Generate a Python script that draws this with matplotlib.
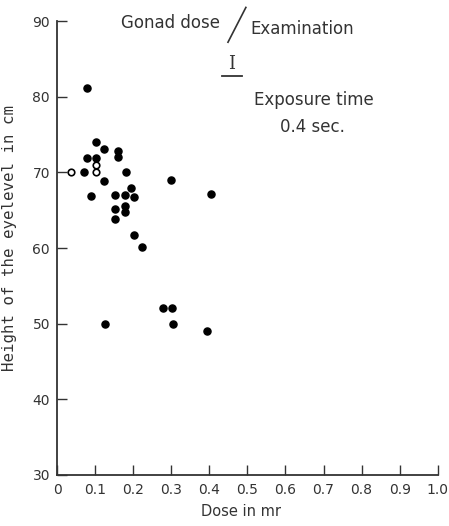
import matplotlib.pyplot as plt

# dose (mr) vs height of the eyelevel (cm), examination I
dose = [0.080, 0.103, 0.123, 0.159, 0.159, 0.079, 0.103, 0.070, 0.180, 0.123,
        0.299, 0.089, 0.152, 0.178, 0.194, 0.202, 0.152, 0.178, 0.178, 0.152,
        0.203, 0.223, 0.278, 0.303, 0.126, 0.304, 0.395, 0.404]
height = [81.1, 74.0, 73.1, 72.8, 72.0, 71.9, 71.9, 70.0, 70.0, 68.8,
          69.0, 66.9, 67.0, 67.0, 67.9, 66.8, 65.1, 65.5, 64.7, 63.8,
          61.7, 60.1, 52.1, 52.1, 50.0, 49.9, 49.0, 67.1]
# hollow marks
dose_open = [0.037, 0.103, 0.103]
height_open = [70.0, 71.0, 70.0]

xticks = [0, 0.1, 0.2, 0.3, 0.4, 0.5, 0.6, 0.7, 0.8, 0.9, 1.0]
yticks = [30, 40, 50, 60, 70, 80, 90]

ink = '#333333'
fig = plt.figure(figsize=(4.49, 5.26), dpi=100)
ax = fig.add_axes([0.127, 0.097, 0.848, 0.863])

ax.scatter(dose, height, s=26, color='black', zorder=3)
ax.scatter(dose_open, height_open, s=22, facecolors='white',
           edgecolors='black', linewidths=1.2, zorder=3)

ax.set_xlim(0, 1.0)
ax.set_ylim(30, 90)
ax.set_xticks(xticks)
ax.set_xticklabels(['0', '0.1', '0.2', '0.3', '0.4', '0.5', '0.6', '0.7', '0.8', '0.9', '1.0'])
ax.set_yticks(yticks)
ax.tick_params(direction='in', length=7, width=1, colors=ink, labelsize=10)
ax.tick_params(axis='x', pad=6)
ax.tick_params(axis='y', pad=5)
ax.spines['top'].set_visible(False)
ax.spines['right'].set_visible(False)
for s in ['left', 'bottom']:
    ax.spines[s].set_color(ink)
    ax.spines[s].set_linewidth(1.3)

ax.set_xlabel('Dose in mr', fontsize=10.5, color=ink)
ax.xaxis.set_label_coords(0.482, -0.064)
ax.set_ylabel('Height of the eyelevel in cm', fontsize=11.3, family='DejaVu Sans Mono', color=ink)
ax.yaxis.set_label_coords(-0.105, 0.522)

# title block
ax.text(0.428, 89.8, 'Gonad dose', fontsize=12, color=ink, ha='right', va='center', clip_on=False)
ax.text(0.507, 89.0, 'Examination', fontsize=12, color=ink, ha='left', va='center', clip_on=False)
ax.plot([0.449, 0.496], [87.2, 91.8], color=ink, lw=1.2, clip_on=False)
ax.text(0.459, 84.3, 'I', fontsize=13, family='DejaVu Serif', color=ink, ha='center', va='center')
ax.plot([0.433, 0.486], [82.8, 82.8], color=ink, lw=1.3)

ax.text(0.675, 79.5, 'Exposure time', fontsize=12, color=ink, ha='center', va='center')
ax.text(0.672, 76.0, '0.4 sec.', fontsize=12, color=ink, ha='center', va='center')

fig.savefig('out.png', dpi=100)
